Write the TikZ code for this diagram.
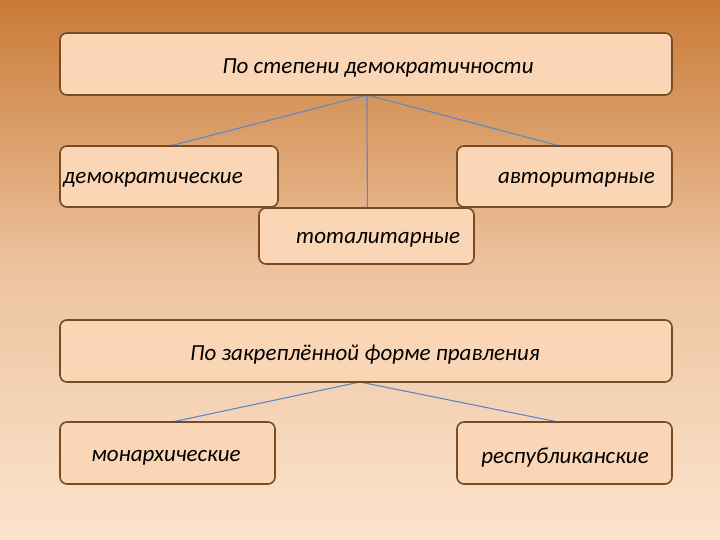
\documentclass[tikz,border=0pt]{standalone}
\usepackage{fontspec}
\setmainfont{Carlito}
\definecolor{bgtop}{HTML}{C97A36}
\definecolor{bgbot}{HTML}{FCE3CC}
\definecolor{boxfill}{HTML}{FAD6B6}
\definecolor{boxline}{HTML}{7A4A22}
\definecolor{conn}{HTML}{5B88C8}
\begin{document}
\begin{tikzpicture}[x=1pt,y=-1pt,
  box/.style={draw=boxline,line width=1.6pt,fill=boxfill,rounded corners=7pt},
  lbl/.style={font=\fontsize{23}{26}\selectfont\itshape,text=black,inner sep=0},
  cn/.style={draw=conn,line width=1.1pt}]
\useasboundingbox (0,0) rectangle (720,540);
\shade[top color=bgtop,bottom color=bgbot,middle color=bgbot!70!bgtop] (0,0) rectangle (720,540);
\coordinate (t1) at (367,95);
\coordinate (t2) at (360,382);
\draw[cn] (t1) -- (170,146);
\draw[cn] (t1) -- (367.4,209);
\draw[cn] (t1) -- (560,146);
\draw[cn] (t2) -- (172,422);
\draw[cn] (t2) -- (558,422);
\draw[box] (60,33) rectangle (672,95); \node[lbl] (n1) at (378,68) {По степени демократичности};
\draw[box] (60,146) rectangle (278,207); \node[lbl,anchor=west] (n2) at (63,180) {демократические};
\draw[box] (457,146) rectangle (672,207); \node[lbl,anchor=east] (n3) at (655,180) {авторитарные};
\draw[box] (259,208) rectangle (474,264); \node[lbl,anchor=west] (n4) at (296,240) {тоталитарные};
\draw[box] (60,320) rectangle (672,382); \node[lbl] (n5) at (365,355) {По закреплённой форме правления};
\draw[box] (60,422) rectangle (275,484); \node[lbl] (n6) at (166,458) {монархические};
\draw[box] (457,422) rectangle (672,484); \node[lbl] (n7) at (565,458) {республиканские};
\end{tikzpicture}
\end{document}
